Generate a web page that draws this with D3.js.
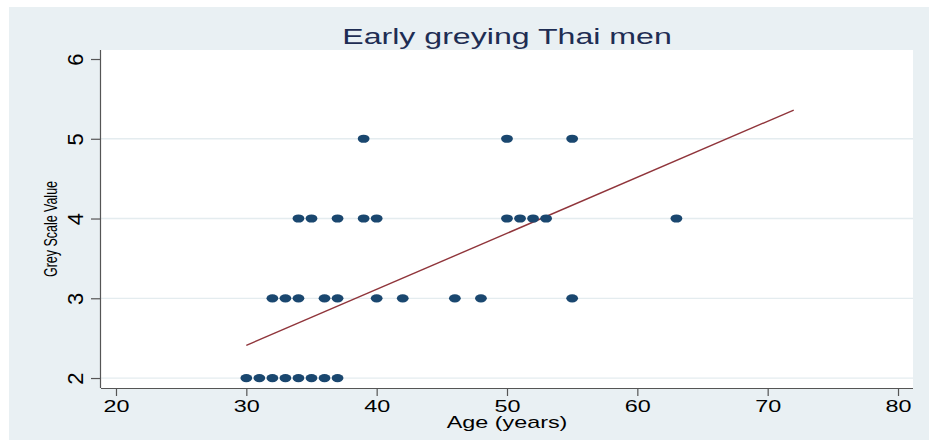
<!DOCTYPE html>
<html>
<head>
<meta charset="utf-8">
<script src="https://cdn.jsdelivr.net/npm/d3@7/dist/d3.min.js"></script>
<style>
  html, body { margin: 0; padding: 0; background: #ffffff; }
  svg { display: block; }
  text { font-family: "Liberation Sans", Arial, Helvetica, sans-serif; }
</style>
</head>
<body>
<script>
// Age (years) and grey-scale value of each man
const ages       = [30, 31, 32, 33, 34, 35, 36, 37,
                    32, 33, 34, 36, 37, 40, 42, 46, 48, 55,
                    34, 35, 37, 39, 40, 50, 51, 52, 53, 63,
                    39, 50, 55];
const greyValues = [2, 2, 2, 2, 2, 2, 2, 2,
                    3, 3, 3, 3, 3, 3, 3, 3, 3, 3,
                    4, 4, 4, 4, 4, 4, 4, 4, 4, 4,
                    5, 5, 5];

// Linear fit end points
const fitAges   = [30, 72];
const fitValues = [2.41, 5.36];

const xTicks = [20, 30, 40, 50, 60, 70, 80];
const yTicks = [2, 3, 4, 5, 6];
const gridValues = [2, 3, 4, 5];

const W = 929, H = 441;
const plot = { left: 101, right: 913, top: 50, bottom: 388 };
const stretch = 1.46;

const svg = d3.select("body").append("svg")
  .attr("width", W).attr("height", H);

// Graph region background
svg.append("rect")
  .attr("x", 9).attr("y", 7)
  .attr("width", W - 9).attr("height", 433)
  .attr("fill", "#e9f0f3");

// Plot region
svg.append("rect")
  .attr("x", plot.left).attr("y", plot.top)
  .attr("width", plot.right - plot.left).attr("height", plot.bottom - plot.top)
  .attr("fill", "#ffffff");

const x = d3.scaleLinear().domain([18.85, 81.15]).range([plot.left, plot.right]);
const y = d3.scaleLinear().domain([1.875, 6.113]).range([plot.bottom, plot.top]);

// Grid lines
svg.append("g").selectAll("line")
  .data(gridValues).join("line")
  .attr("x1", plot.left).attr("x2", plot.right)
  .attr("y1", d => y(d)).attr("y2", d => y(d))
  .attr("stroke", "#e4ecef").attr("stroke-width", 1.3);

// X axis
const gx = svg.append("g")
  .attr("transform", `translate(0,${plot.bottom})`)
  .call(d3.axisBottom(x).tickValues(xTicks).tickSizeInner(8).tickSizeOuter(0).tickFormat(d3.format("d")));
gx.select(".domain").attr("stroke", "#555555").attr("stroke-width", 1.2)
  .attr("d", `M${plot.left},0.5H${plot.right}`);
gx.selectAll(".tick line").attr("stroke", "#555555").attr("stroke-width", 1.2);
gx.selectAll(".tick text")
  .attr("y", null).attr("dy", null)
  .attr("fill", "#000000")
  .attr("font-size", 16)
  .attr("text-anchor", "middle")
  .attr("transform", `translate(0,24) scale(${stretch},1)`);

// Y axis
const gy = svg.append("g")
  .attr("transform", `translate(${plot.left},0)`)
  .call(d3.axisLeft(y).tickValues(yTicks).tickSizeInner(10).tickSizeOuter(0).tickFormat(d3.format("d")));
gy.select(".domain").attr("stroke", "#555555").attr("stroke-width", 1.2)
  .attr("d", `M-0.5,${plot.top}V${plot.bottom}`);
gy.selectAll(".tick line").attr("stroke", "#555555").attr("stroke-width", 1.2);
gy.selectAll(".tick text")
  .attr("x", null).attr("dy", null)
  .attr("fill", "#000000")
  .attr("font-size", 22)
  .attr("text-anchor", "middle")
  .attr("transform", "translate(-18,0) rotate(-90)");

// Fitted line
svg.append("line")
  .attr("x1", x(fitAges[0])).attr("y1", y(fitValues[0]))
  .attr("x2", x(fitAges[1])).attr("y2", y(fitValues[1]))
  .attr("stroke", "#90353b").attr("stroke-width", 1.4);

// Observations
svg.append("g").selectAll("ellipse")
  .data(ages.map((a, i) => ({ age: a, grey: greyValues[i] })))
  .join("ellipse")
  .attr("cx", d => x(d.age)).attr("cy", d => y(d.grey))
  .attr("rx", 5.9).attr("ry", 4.1)
  .attr("fill", "#1a476f");

// Title
svg.append("text")
  .attr("transform", `translate(${(plot.left + plot.right) / 2},44) scale(${stretch},1)`)
  .attr("text-anchor", "middle")
  .attr("font-size", 22)
  .attr("fill", "#1e2d53")
  .text("Early greying Thai men");

// Axis titles
svg.append("text")
  .attr("transform", `translate(${(plot.left + plot.right) / 2},428) scale(${stretch},1)`)
  .attr("text-anchor", "middle")
  .attr("font-size", 16)
  .attr("fill", "#000000")
  .text("Age (years)");

svg.append("text")
  .attr("transform", `translate(57,229) scale(${stretch},1) rotate(-90)`)
  .attr("text-anchor", "middle")
  .attr("font-size", 12.5)
  .attr("textLength", 96)
  .attr("lengthAdjust", "spacingAndGlyphs")
  .attr("fill", "#000000")
  .text("Grey Scale Value");
</script>
</body>
</html>
